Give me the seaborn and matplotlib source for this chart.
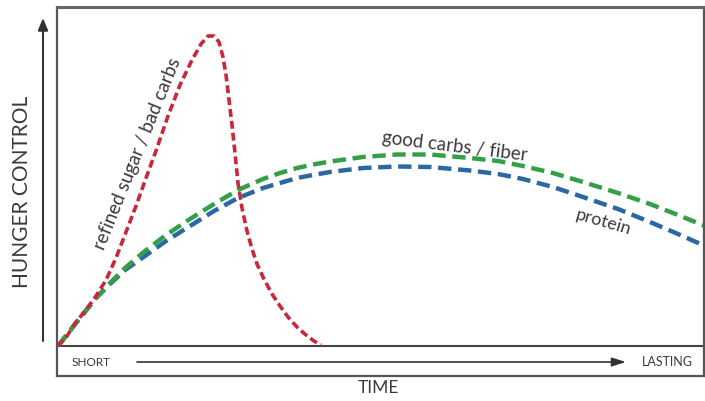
import matplotlib
matplotlib.use("Agg")
import matplotlib.pyplot as plt
import seaborn as sns
import pandas as pd

# ---- data (time units from origin, hunger-control units above baseline) ----
red_time = [0, 9, 18, 28, 38, 48, 58, 68, 78, 88, 99, 110, 122, 134, 143, 150,
            156, 161, 165, 168, 171, 174, 177, 180, 184, 189, 194, 199, 206, 214,
            222, 230, 239, 248, 256, 263]
red_ctrl = [0, 10, 24, 36, 50, 66, 88, 114, 140, 168, 198, 230, 261, 286, 302, 310,
            310, 304, 289, 271, 246, 221, 193, 163, 138, 115, 97, 82, 67, 52,
            40, 29, 19, 11, 5, 1]

curve_time = [0, 18, 38, 52, 67, 87, 108, 132, 156, 180, 205, 222, 239, 255, 272,
              305, 339, 372, 412, 440, 465, 495, 525, 560, 592, 620, 647]
green_ctrl = [0, 23, 48, 63, 78, 95, 111, 127, 142, 156, 167, 173, 178, 181.5, 184.5,
              189, 191.5, 191.5, 188, 185, 180, 173, 164, 153, 142, 131, 120]
blue_ctrl = [0, 23, 48, 62, 76, 90, 105, 120, 135, 148, 158, 163, 168, 171, 174,
             178, 179.5, 179, 175.5, 172, 167, 159, 149, 137, 124, 112, 100]

labels = ["refined sugar / bad carbs", "good carbs / fiber", "protein"]
y_title = "HUNGER CONTROL"
x_title = "TIME"
x_start, x_end = "SHORT", "LASTING"

RED, GREEN, BLUE = "#c9273a", "#33a047", "#2b68a3"
TXT = "#3a3a3a"

sns.set_theme(style="white")
plt.rcParams["font.family"] = ["Lato", "DejaVu Sans"]

W, H = 705, 401
fig = plt.figure(figsize=(W / 100, H / 100), dpi=100)

# main frame axes
left, right, top, bottom = 57, 704, 7, 376
ax = fig.add_axes([left / W, 1 - bottom / H, (right - left) / W, (bottom - top) / H])
ox, oy = 58, 346  # origin pixel
ax.set_xlim(left - ox, right - ox)
ax.set_ylim(oy - bottom, oy - top)
ax.set_xticks([])
ax.set_yticks([])
for s in ax.spines.values():
    s.set_visible(True)
    s.set_color("#555555")
    s.set_linewidth(1.6)
ax.spines["top"].set_linewidth(2.2)
ax.spines["top"].set_color("#666666")

ax.axhline(0, color="#444444", lw=1.5, zorder=1)

dg = pd.DataFrame({"t": curve_time, "g": green_ctrl, "b": blue_ctrl})
dr = pd.DataFrame({"t": red_time, "r": red_ctrl})

sns.lineplot(data=dg, x="t", y="b", ax=ax, color=BLUE, lw=3.2, sort=False,
             estimator=None)
ax.lines[-1].set_linestyle((0, (3.0, 1.5)))
sns.lineplot(data=dg, x="t", y="g", ax=ax, color=GREEN, lw=3.2, sort=False,
             estimator=None)
ax.lines[-1].set_linestyle((0, (3.0, 1.5)))
sns.lineplot(data=dr, x="t", y="r", ax=ax, color=RED, lw=2.6, sort=False,
             estimator=None)
ax.lines[-1].set_linestyle((0, (2.2, 1.1)))
ax.set_xlabel("")
ax.set_ylabel("")

# overlay in pixel coordinates for arrows / labels (on top)
ov = fig.add_axes([0, 0, 1, 1])
ov.set_xlim(0, W)
ov.set_ylim(H, 0)
ov.axis("off")
ov.set_zorder(10)
ov.patch.set_alpha(0)

ov.text(138, 154, labels[0], rotation=68, ha="center", va="center",
        fontsize=13.5, color=TXT, rotation_mode="anchor")
ov.text(455, 146, labels[1], rotation=-7, ha="center", va="center",
        fontsize=13.5, color=TXT, rotation_mode="anchor")
ov.text(603, 222, labels[2], rotation=-16, ha="center", va="center",
        fontsize=13, color=TXT, rotation_mode="anchor")

# y arrow and title
ov.annotate("", xy=(43, 18), xytext=(43, 341),
            arrowprops=dict(arrowstyle="-|>,head_length=0.6,head_width=0.25",
                            color="#333333", lw=1.5, shrinkA=0, shrinkB=0))
ov.text(22, 192, y_title, rotation=90, ha="center", va="center",
        fontsize=15, color=TXT)

# time band
ov.annotate("", xy=(626, 362), xytext=(137, 362),
            arrowprops=dict(arrowstyle="-|>,head_length=0.7,head_width=0.22",
                            color="#333333", lw=1.2, shrinkA=0, shrinkB=0))
ov.text(91, 362, x_start, ha="center", va="center", fontsize=8.5, color=TXT)
ov.text(667, 362, x_end, ha="center", va="center", fontsize=9, color=TXT)
ov.text(378, 388, x_title, ha="center", va="center", fontsize=12.5, color=TXT)

fig.savefig("out.png", dpi=100)
